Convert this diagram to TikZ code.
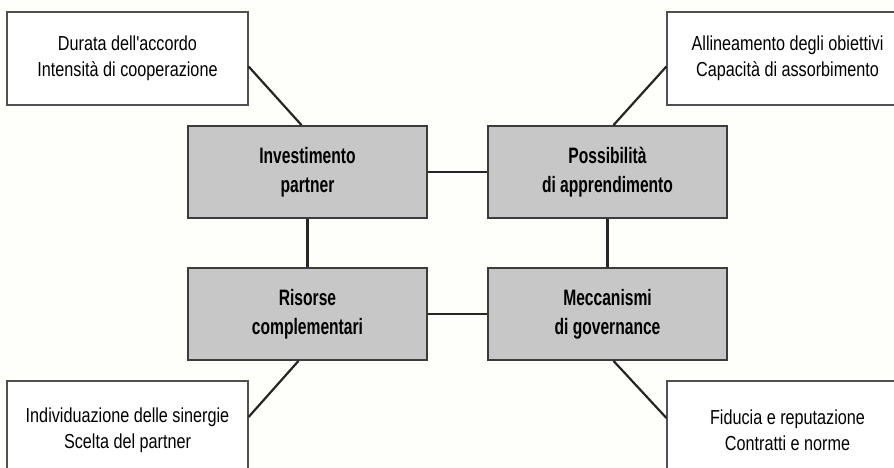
\documentclass[tikz,border=0pt]{standalone}
\usepackage{fontspec}
\setmainfont{Liberation Sans}
% condensed faces for the notes and for the key factors
\newfontfamily\notefont[FakeStretch=0.80]{Liberation Sans}
\newfontfamily\keyfont[FakeStretch=0.70]{Liberation Sans}

\definecolor{paper}{RGB}{254,254,250}
\definecolor{keyfill}{RGB}{199,199,199}
\definecolor{keyline}{RGB}{60,60,60}
\definecolor{noteline}{RGB}{80,80,80}

\tikzset{
  keybox/.style={draw=keyline, line width=1.8pt, fill=keyfill,
    minimum width=239pt, minimum height=92pt, inner sep=0pt, align=center,
    font=\keyfont\bfseries\fontsize{22.3}{29}\selectfont},
  notebox/.style={draw=noteline, line width=1.2pt, fill=white,
    minimum width=241pt, minimum height=93pt, inner sep=0pt, align=center,
    font=\notefont\fontsize{20.25}{26}\selectfont},
  link/.style={line width=2.2pt, draw=black!85}
}

\begin{document}
\begin{tikzpicture}[x=1pt, y=-1pt]
  \useasboundingbox (0,0) rectangle (894,468);
  \clip (0,0) rectangle (894,468);
  \fill[paper] (0,0) rectangle (894,468);

  % four key factors
  \node[keybox] (inv) at (307.5,172) {Investimento\\partner};
  \node[keybox] (pos) at (607.5,172) {Possibilità\\di apprendimento};
  \node[keybox] (ris) at (307.5,314) {Risorse\\complementari};
  \node[keybox] (mec) at (607.5,314) {Meccanismi\\di governance};

  % notes at the corners
  \node[notebox] (tl) at (127.5,58.5) {Durata dell'accordo\\Intensità di cooperazione};
  \node[notebox] (tr) at (787.5,58.5) {Allineamento degli obiettivi\\Capacità di assorbimento};
  \node[notebox, minimum height=98pt] (bl) at (127.5,430) {Individuazione delle sinergie\\Scelta del partner};
  \node[notebox, minimum height=98pt] (br) at (787.5,430) {Fiducia e reputazione\\Contratti e norme};

  % links between the key factors
  \draw[link] (inv) -- (pos);
  \draw[link] (ris) -- (mec);
  \draw[link] (inv) -- (ris);
  \draw[link] (pos) -- (mec);

  % links to the notes
  \draw[link] ([yshift=-8pt]tl.east) -- ([xshift=-6pt]inv.north);
  \draw[link] ([yshift=-8pt]tr.west) -- ([xshift=6pt]pos.north);
  \draw[link] ([xshift=-9pt]ris.south) -- ([yshift=13pt]bl.east);
  \draw[link] ([xshift=6pt]mec.south) -- ([yshift=12pt]br.west);
\end{tikzpicture}
\end{document}
